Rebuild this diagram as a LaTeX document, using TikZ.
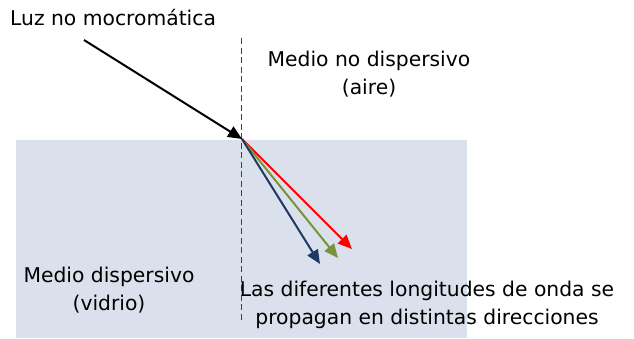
\documentclass[tikz,border=0pt]{standalone}
\usepackage{fontspec}
\setmainfont{DejaVu Sans}
\usetikzlibrary{arrows.meta}
\definecolor{glass}{RGB}{218,225,236}
\definecolor{rayred}{RGB}{255,0,0}
\definecolor{raygreen}{RGB}{119,147,60}
\definecolor{rayblue}{RGB}{31,56,100}
\begin{document}
\begin{tikzpicture}[x=1pt,y=-1pt,
  lbl/.style={inner sep=0pt,font=\fontsize{20.3}{27.5}\selectfont,align=center},
  ray/.style={line width=2pt,-{Triangle[length=14pt,width=12pt]}}]
\useasboundingbox (0,0) rectangle (634,338);
\fill[glass] (16,140) rectangle (467,338);
\coordinate (top) at (241,38);
\coordinate (bot) at (241,322);
\draw[dashed,dash pattern=on 6pt off 3.5pt,line width=1pt,black!75] (top) -- (bot);
\coordinate (src) at (84,40);
\coordinate (hit) at (242,139);
\coordinate (tr) at (352,249);
\coordinate (tg) at (338,258);
\coordinate (tb) at (320,264);
\draw[ray,black] (src) -- (hit);
\draw[ray,rayred] (hit) -- (tr);
\draw[ray,raygreen] (hit) -- (tg);
\draw[ray,rayblue] (hit) -- (tb);
\node[lbl,anchor=west] (luz) at (10,18) {Luz no mocromática};
\node[lbl] (aire) at (369,74) {Medio no dispersivo\\(aire)};
\node[lbl] (vidrio) at (109,290) {Medio dispersivo\\(vidrio)};
\node[lbl] (disp) at (427,305) {Las diferentes longitudes de onda se\\propagan en distintas direcciones};
\end{tikzpicture}
\end{document}
